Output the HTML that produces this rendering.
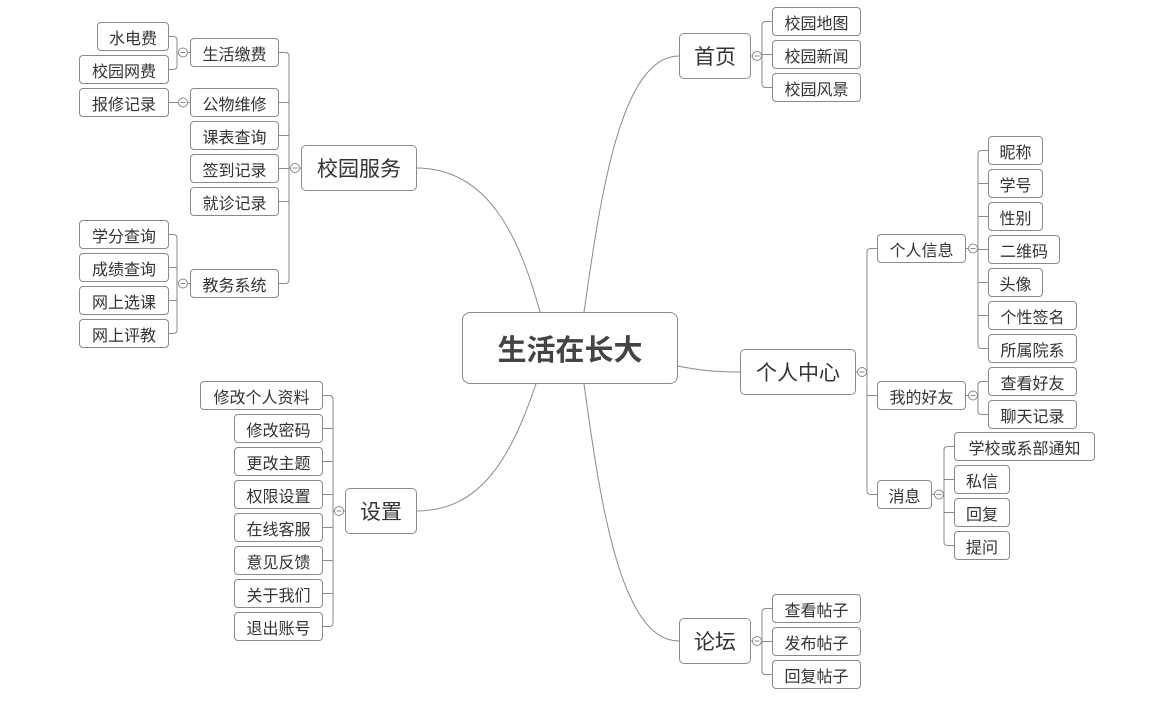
<!DOCTYPE html>
<html><head><meta charset="utf-8"><style>
body{margin:0;width:1162px;height:719px;background:#fff;position:relative;overflow:hidden;font-family:"Liberation Sans","Noto Sans CJK SC",sans-serif;color:#333}
.n{position:absolute;box-sizing:border-box;border:1px solid #8a8a8a;border-radius:4px;background:#fff;display:flex;align-items:center;justify-content:center;font-size:16px;height:29px;white-space:nowrap}
.b{font-size:21px;height:46px;border-radius:5px}
.c{font-size:29px;font-weight:bold;color:#444;border-radius:8px}
svg{position:absolute;left:0;top:0}
</style></head><body>
<svg width="1162" height="719" fill="none" stroke="#8a8a8a" stroke-width="1">
<!-- main curves -->
<path d="M416,168 C490,168 520,240 540,312"/>
<path d="M584,312 C600,200 620,56 679,56"/>
<path d="M677,366 C700,370 710,372 740,372"/>
<path d="M584,384 C600,500 620,641 679,641"/>
<path d="M536,384 C510,460 480,511 416,511"/>
<!-- 生活缴费 -->
<path d="M190,52.5H177M177,52.5V40Q177,36.5 173,36.5H169M177,52.5V66Q177,69.5 173,69.5H169"/>
<path d="M190,102.5H169"/>
<!-- 教务系统 -->
<path d="M190,283.5H177M177,283.5V238Q177,234.5 173,234.5H169M177,267.5H169M177,300.5H169M177,283.5V330Q177,333.5 173,333.5H169"/>
<!-- 校园服务 -->
<path d="M301,168H289M289,168V56Q289,52.5 285,52.5H279M289,102.5H279M289,135.5H279M289,168.5H279M289,201.5H279M289,168V280Q289,283.5 285,283.5H279"/>
<!-- 设置 -->
<path d="M345,511H333M333,511V399Q333,395.5 329,395.5H323M333,428.5H323M333,461.5H323M333,494.5H323M333,527.5H323M333,560.5H323M333,593.5H323M333,511V623Q333,626.5 329,626.5H323"/>
<!-- 首页 -->
<path d="M750,56H762M762,56V25Q762,21.5 766,21.5H772M762,54.5H772M762,56V84Q762,87.5 766,87.5H772"/>
<!-- 个人中心 -->
<path d="M855,372H867M867,372V252Q867,248.5 871,248.5H877M867,395.5H877M867,372V491Q867,494.5 871,494.5H877"/>
<!-- 个人信息 -->
<path d="M966,248.5H978M978,248.5V154Q978,150.5 982,150.5H988M978,183.5H988M978,216.5H988M978,249.5H988M978,282.5H988M978,315.5H988M978,248.5V345Q978,348.5 982,348.5H988"/>
<!-- 我的好友 -->
<path d="M966,395.5H978M978,395.5V385Q978,381.5 982,381.5H988M978,395.5V411Q978,414.5 982,414.5H988"/>
<!-- 消息 -->
<path d="M932,494.5H944M944,494.5V450Q944,446.5 948,446.5H954M944,479.5H954M944,512.5H954M944,494.5V542Q944,545.5 948,545.5H954"/>
<!-- 论坛 -->
<path d="M750,641H762M762,641V612Q762,608.5 766,608.5H772M762,641.5H772M762,641V671Q762,674.5 766,674.5H772"/>
<g fill="#fff">
<circle cx="183" cy="52.5" r="4.5"/><circle cx="183" cy="102.5" r="4.5"/><circle cx="183" cy="283.5" r="4.5"/>
<circle cx="295" cy="168" r="4.5"/><circle cx="339" cy="511" r="4.5"/><circle cx="757" cy="56" r="4.5"/>
<circle cx="862" cy="372" r="4.5"/><circle cx="973" cy="248.5" r="4.5"/><circle cx="973" cy="395.5" r="4.5"/>
<circle cx="939" cy="494.5" r="4.5"/><circle cx="757" cy="641" r="4.5"/>
</g>
<g stroke-width="1">
<path d="M180.5,52.5h5M180.5,102.5h5M180.5,283.5h5M292.5,168h5M336.5,511h5M754.5,56h5M859.5,372h5M970.5,248.5h5M970.5,395.5h5M936.5,494.5h5M754.5,641h5"/>
</g>
</svg>

<div class="n c" style="left:462px;top:312px;width:216px;height:72px">生活在长大</div>

<div class="n b" style="left:301px;top:145px;width:116px">校园服务</div>
<div class="n" style="left:97px;top:22px;width:72px">水电费</div>
<div class="n" style="left:79px;top:55px;width:90px">校园网费</div>
<div class="n" style="left:79px;top:88px;width:90px">报修记录</div>
<div class="n" style="left:190px;top:38px;width:89px">生活缴费</div>
<div class="n" style="left:190px;top:88px;width:89px">公物维修</div>
<div class="n" style="left:190px;top:121px;width:89px">课表查询</div>
<div class="n" style="left:190px;top:154px;width:89px">签到记录</div>
<div class="n" style="left:190px;top:187px;width:89px">就诊记录</div>
<div class="n" style="left:190px;top:269px;width:89px">教务系统</div>
<div class="n" style="left:79px;top:220px;width:90px">学分查询</div>
<div class="n" style="left:79px;top:253px;width:90px">成绩查询</div>
<div class="n" style="left:79px;top:286px;width:90px">网上选课</div>
<div class="n" style="left:79px;top:319px;width:90px">网上评教</div>

<div class="n b" style="left:345px;top:488px;width:72px">设置</div>
<div class="n" style="left:200px;top:381px;width:123px">修改个人资料</div>
<div class="n" style="left:234px;top:414px;width:89px">修改密码</div>
<div class="n" style="left:234px;top:447px;width:89px">更改主题</div>
<div class="n" style="left:234px;top:480px;width:89px">权限设置</div>
<div class="n" style="left:234px;top:513px;width:89px">在线客服</div>
<div class="n" style="left:234px;top:546px;width:89px">意见反馈</div>
<div class="n" style="left:234px;top:579px;width:89px">关于我们</div>
<div class="n" style="left:234px;top:612px;width:89px">退出账号</div>

<div class="n b" style="left:679px;top:33px;width:72px">首页</div>
<div class="n" style="left:772px;top:7px;width:89px">校园地图</div>
<div class="n" style="left:772px;top:40px;width:89px">校园新闻</div>
<div class="n" style="left:772px;top:73px;width:89px">校园风景</div>

<div class="n b" style="left:740px;top:349px;width:116px">个人中心</div>
<div class="n" style="left:877px;top:234px;width:89px">个人信息</div>
<div class="n" style="left:877px;top:381px;width:89px">我的好友</div>
<div class="n" style="left:877px;top:480px;width:55px">消息</div>
<div class="n" style="left:988px;top:136px;width:55px">昵称</div>
<div class="n" style="left:988px;top:169px;width:55px">学号</div>
<div class="n" style="left:988px;top:202px;width:55px">性别</div>
<div class="n" style="left:988px;top:235px;width:72px">二维码</div>
<div class="n" style="left:988px;top:268px;width:55px">头像</div>
<div class="n" style="left:988px;top:301px;width:89px">个性签名</div>
<div class="n" style="left:988px;top:334px;width:89px">所属院系</div>
<div class="n" style="left:988px;top:367px;width:89px">查看好友</div>
<div class="n" style="left:988px;top:400px;width:89px">聊天记录</div>
<div class="n" style="left:954px;top:432px;width:141px">学校或系部通知</div>
<div class="n" style="left:954px;top:465px;width:56px">私信</div>
<div class="n" style="left:954px;top:498px;width:56px">回复</div>
<div class="n" style="left:954px;top:531px;width:56px">提问</div>

<div class="n b" style="left:679px;top:618px;width:72px">论坛</div>
<div class="n" style="left:772px;top:594px;width:89px">查看帖子</div>
<div class="n" style="left:772px;top:627px;width:89px">发布帖子</div>
<div class="n" style="left:772px;top:660px;width:89px">回复帖子</div>
</body></html>
